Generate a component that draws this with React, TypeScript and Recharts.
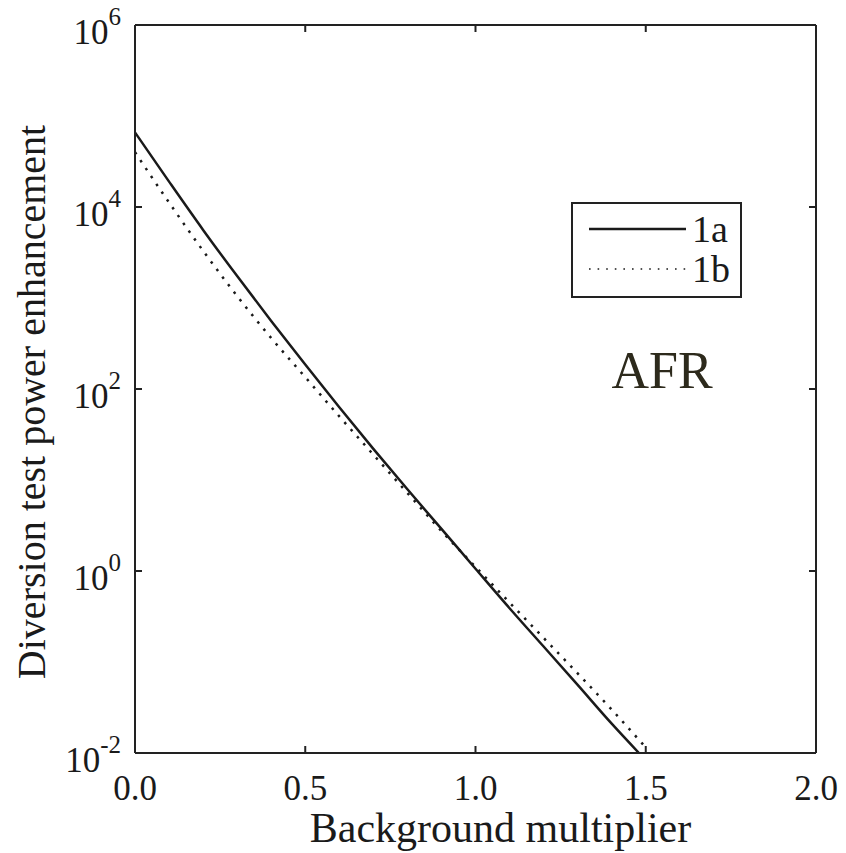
import { CartesianGrid, Legend, Line, LineChart, XAxis, YAxis } from "recharts";

// background multiplier (x) and power enhancement (y)
const multiplier1a = [0, 0.1, 0.2, 0.3, 0.4, 0.5, 0.6, 0.7, 0.8, 0.9, 1.0, 1.1, 1.2, 1.3, 1.4, 1.48];
const enhancement1a = [66000, 19000, 5600, 1740, 560, 186, 63, 22, 7.9, 2.9, 1.06, 0.39, 0.148, 0.056, 0.021, 0.01];

const multiplier1b = [0, 0.1, 0.2, 0.3, 0.4, 0.5, 0.6, 0.7, 0.8, 0.9, 1.0, 1.1, 1.2, 1.3, 1.4, 1.5];
const enhancement1b = [40000, 11200, 3300, 1050, 363, 135, 50, 19, 7.2, 2.75, 1.11, 0.45, 0.184, 0.075, 0.03, 0.0115];

const xTicks = [0, 0.5, 1.0, 1.5, 2.0];
const yTicks = [0.01, 1, 100, 10000, 1000000];

const seriesNames = ["1a", "1b"];

const font = "'Liberation Serif', 'Times New Roman', serif";
const ink = "#1a1a1a";
const frame = "#222";
const tickLen = 7;

const data1a = multiplier1a.map((x, i) => ({ x, y: enhancement1a[i] }));
const data1b = multiplier1b.map((x, i) => ({ x, y: enhancement1b[i] }));

const dashFor: Record<string, string | undefined> = {
  "1a": undefined,
  "1b": "2.5 7",
};

function LeftTick({ x, y, payload }: any) {
  const exp = Math.round(Math.log10(payload.value));
  return (
    <g>
      <line x1={x} x2={x + tickLen} y1={y} y2={y} stroke={frame} strokeWidth={2} />
      <text x={x - 14} y={y + 19} textAnchor="end" fontFamily={font} fontSize={35} fill={ink}>
        10
        <tspan dy={-19} fontSize={25}>
          {exp}
        </tspan>
      </text>
    </g>
  );
}

function RightTick({ x, y }: any) {
  return <line x1={x} x2={x - tickLen} y1={y} y2={y} stroke={frame} strokeWidth={2} />;
}

function BottomTick({ x, y, payload }: any) {
  return (
    <g>
      <line x1={x} x2={x} y1={y} y2={y - tickLen} stroke={frame} strokeWidth={2} />
      <text x={x} y={y + 47} textAnchor="middle" fontFamily={font} fontSize={35} fill={ink}>
        {payload.value.toFixed(1)}
      </text>
    </g>
  );
}

function TopTick({ x, y }: any) {
  return <line x1={x} x2={x} y1={y} y2={y + tickLen} stroke={frame} strokeWidth={2} />;
}

function LegendBox({ payload }: any) {
  const items = payload ?? [];
  return (
    <svg width={171} height={96} style={{ display: "block" }}>
      <rect x={1} y={1} width={169} height={94} fill="#fff" stroke={frame} strokeWidth={2} />
      {items.map((item: any, i: number) => {
        const cy = 27 + i * 40;
        return (
          <g key={item.value}>
            <line
              x1={18}
              x2={115}
              y1={cy}
              y2={cy}
              stroke={ink}
              strokeWidth={i === 0 ? 2.5 : 1.6}
              strokeDasharray={i === 0 ? undefined : "1.6 7"}
            />
            <text x={121} y={cy + 13} fontFamily={font} fontSize={38} fill={ink}>
              {item.value}
            </text>
          </g>
        );
      })}
    </svg>
  );
}

export default function App() {
  return (
    <div style={{ position: "absolute", left: 0, top: 0, width: 846, height: 853, background: "#fff" }}>
      <LineChart width={846} height={853} margin={{ top: 24, right: 29, bottom: 0, left: 15 }}>
        <CartesianGrid stroke="none" />
        <XAxis
          xAxisId="b"
          dataKey="x"
          type="number"
          domain={[0, 2]}
          ticks={xTicks}
          interval={0}
          height={100}
          tickSize={0}
          tickMargin={0}
          tickLine={false}
          axisLine={{ stroke: frame, strokeWidth: 2 }}
          tick={<BottomTick />}
          allowDataOverflow
          label={{
            content: ({ viewBox }: any) => (
              <text
                x={viewBox.x + viewBox.width / 2 + 25}
                y={viewBox.y + 89}
                textAnchor="middle"
                fontFamily={font}
                fontSize={42}
                fill={ink}
              >
                Background multiplier
              </text>
            ),
          }}
        />
        <XAxis
          xAxisId="t"
          orientation="top"
          dataKey="x"
          type="number"
          domain={[0, 2]}
          ticks={xTicks}
          interval={0}
          height={1}
          tickSize={0}
          tickMargin={0}
          tickLine={false}
          axisLine={{ stroke: frame, strokeWidth: 2 }}
          tick={<TopTick />}
          allowDataOverflow
        />
        <YAxis
          yAxisId="l"
          type="number"
          scale="log"
          domain={[0.01, 1000000]}
          ticks={yTicks}
          interval={0}
          width={120}
          tickSize={0}
          tickMargin={0}
          tickLine={false}
          axisLine={{ stroke: frame, strokeWidth: 2 }}
          tick={<LeftTick />}
          allowDataOverflow
          label={{
            content: ({ viewBox }: any) => {
              const lx = viewBox.x + 30;
              const ly = viewBox.y + viewBox.height / 2 + 13;
              return (
                <text
                  x={lx}
                  y={ly}
                  transform={`rotate(-90 ${lx} ${ly})`}
                  textAnchor="middle"
                  fontFamily={font}
                  fontSize={40}
                  fill={ink}
                >
                  Diversion test power enhancement
                </text>
              );
            },
          }}
        />
        <YAxis
          yAxisId="r"
          orientation="right"
          type="number"
          scale="log"
          domain={[0.01, 1000000]}
          ticks={yTicks}
          interval={0}
          width={1}
          tickSize={0}
          tickMargin={0}
          tickLine={false}
          axisLine={{ stroke: frame, strokeWidth: 2 }}
          tick={<RightTick />}
          allowDataOverflow
        />
        <Legend
          layout="vertical"
          align="center"
          verticalAlign="middle"
          wrapperStyle={{ left: 571, top: 202, width: 171, height: 96 }}
          content={<LegendBox />}
        />
        <Line
          xAxisId="b"
          yAxisId="l"
          data={data1a}
          dataKey="y"
          name={seriesNames[0]}
          type="monotone"
          stroke={ink}
          strokeWidth={2.5}
          strokeDasharray={dashFor["1a"]}
          dot={false}
          activeDot={false}
          isAnimationActive={false}
        />
        <Line
          xAxisId="b"
          yAxisId="l"
          data={data1b}
          dataKey="y"
          name={seriesNames[1]}
          type="monotone"
          stroke={ink}
          strokeWidth={2.5}
          strokeDasharray={dashFor["1b"]}
          dot={false}
          activeDot={false}
          isAnimationActive={false}
        />
      </LineChart>
      <svg
        width={846}
        height={853}
        style={{ position: "absolute", left: 0, top: 0, pointerEvents: "none" }}
      >
        <text x={662} y={388} textAnchor="middle" fontFamily={font} fontSize={52} fill="#2d2a1c">
          AFR
        </text>
      </svg>
    </div>
  );
}
